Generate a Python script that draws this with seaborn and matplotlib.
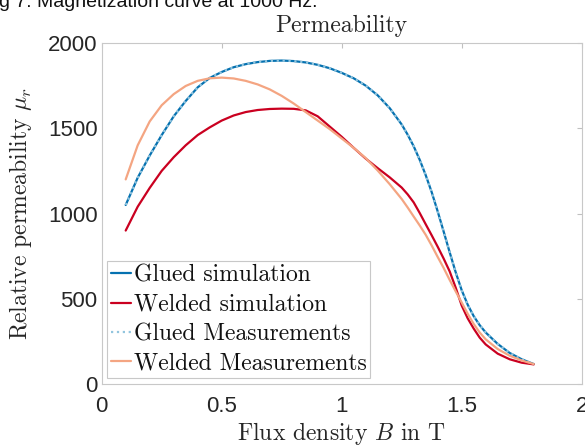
import numpy as np
import pandas as pd
import matplotlib
matplotlib.use("Agg")
import matplotlib.pyplot as plt
import seaborn as sns

# ---- data ----
B = [0.10, 0.15, 0.20, 0.25, 0.30, 0.35, 0.40, 0.45, 0.50, 0.55, 0.60, 0.65,
     0.70, 0.75, 0.80, 0.85, 0.90, 0.95, 1.00, 1.05, 1.10, 1.15, 1.20, 1.25,
     1.275, 1.30, 1.325, 1.35, 1.375, 1.40, 1.425, 1.45, 1.475, 1.50, 1.525,
     1.55, 1.575, 1.60, 1.65, 1.70, 1.75, 1.80]

glued_sim = [1050, 1210, 1340, 1460, 1570, 1660, 1740, 1795, 1830, 1858, 1876, 1888,
             1895, 1897, 1894, 1886, 1872, 1852, 1825, 1793, 1750, 1693, 1618, 1522,
             1462, 1394, 1315, 1225, 1125, 1012, 893, 772, 655, 550, 465,
             398, 345, 302, 235, 182, 145, 117]

welded_sim = [900, 1040, 1150, 1250, 1330, 1400, 1460, 1505, 1545, 1575, 1595, 1607,
              1613, 1615, 1614, 1605, 1570, 1510, 1450, 1385, 1322, 1266, 1212, 1152,
              1112, 1065, 1003, 937, 872, 805, 735, 660, 565, 460, 385,
              325, 272, 232, 178, 145, 125, 115]

glued_meas = [1050, 1210, 1340, 1460, 1570, 1660, 1740, 1795, 1830, 1858, 1876, 1888,
              1895, 1897, 1894, 1886, 1872, 1852, 1825, 1793, 1750, 1693, 1618, 1522,
              1462, 1394, 1315, 1225, 1125, 1012, 893, 772, 655, 550, 465,
              398, 345, 302, 235, 182, 145, 117]

welded_meas = [1200, 1400, 1540, 1635, 1700, 1748, 1778, 1793, 1797, 1792, 1778, 1757,
               1728, 1690, 1645, 1595, 1545, 1495, 1440, 1385, 1325, 1252, 1172, 1085,
               1035, 982, 930, 875, 812, 745, 680, 610, 543, 478, 412,
               352, 302, 262, 205, 166, 138, 117]

labels = ["Glued simulation", "Welded simulation", "Glued Measurements", "Welded Measurements"]
x_ticks = [0, 0.5, 1, 1.5, 2]
x_tick_labels = ["0", "0.5", "1", "1.5", "2"]
y_ticks = [0, 500, 1000, 1500, 2000]
caption = "g 7: Magnetization curve at 1000 Hz."

sns.set_style("white")
plt.rcParams["mathtext.fontset"] = "cm"
plt.rcParams["axes.unicode_minus"] = False

fig = plt.figure(figsize=(5.85, 4.46), dpi=100)
ax = fig.add_axes([101.7 / 585, 62 / 446, 480 / 585, 341 / 446])

styles = [
    dict(color="#0571b0", linestyle="-", linewidth=1.6),
    dict(color="#ca0020", linestyle="-", linewidth=1.6),
    dict(color="#92c5de", linestyle=":", linewidth=1.6),
    dict(color="#f4a582", linestyle="-", linewidth=1.6),
]
for series, lab, st in zip([glued_sim, welded_sim, glued_meas, welded_meas], labels, styles):
    df = pd.DataFrame({"B": B, "mu": series})
    sns.lineplot(data=df, x="B", y="mu", ax=ax, label=lab, **st)

ax.set_xlim(0, 2)
ax.set_ylim(0, 2000)
ax.set_xticks(x_ticks)
ax.set_xticklabels(x_tick_labels)
ax.set_yticks(y_ticks)
ax.set_yticklabels([str(v) for v in y_ticks])

for s in ax.spines.values():
    s.set_color("#c8c8c8")
    s.set_linewidth(0.8)
ax.tick_params(direction="in", length=3.5, width=0.8, color="#c0c0c0",
               top=True, right=True, labelsize=16, labelcolor="#262626")
ax.tick_params(axis="x", pad=9)
ax.tick_params(axis="y", pad=3)
for t in ax.get_xticklabels() + ax.get_yticklabels():
    t.set_fontfamily("Liberation Sans")

cm = dict(family="cmr10", size=17, color="#262626")
ax.set_title("Permeability", fontdict=cm, pad=8)
ax.set_xlabel(r"Flux density $B$ in T", fontdict=cm)
ax.set_ylabel(r"Relative permeability $\mu_r$", fontdict=cm)
ax.xaxis.set_label_coords(0.5, -0.105)
ax.yaxis.set_label_coords(-0.141, 0.5)

leg = ax.legend(loc="lower left", bbox_to_anchor=(0.011, 0.018), borderaxespad=0,
                prop={"family": "cmr10", "size": 17}, handlelength=0.85,
                handletextpad=0.15, labelspacing=0.3, borderpad=0.15,
                fancybox=False, framealpha=1, edgecolor="#c8c8c8")
leg.get_frame().set_linewidth(0.8)
for t in leg.get_texts():
    t.set_color("#111111")

fig.text(-1 / 585, (446 - 7) / 446, caption,
         family="Liberation Sans", fontsize=14, va="baseline", ha="left", color="#111111")

fig.savefig("out.png", dpi=100)
